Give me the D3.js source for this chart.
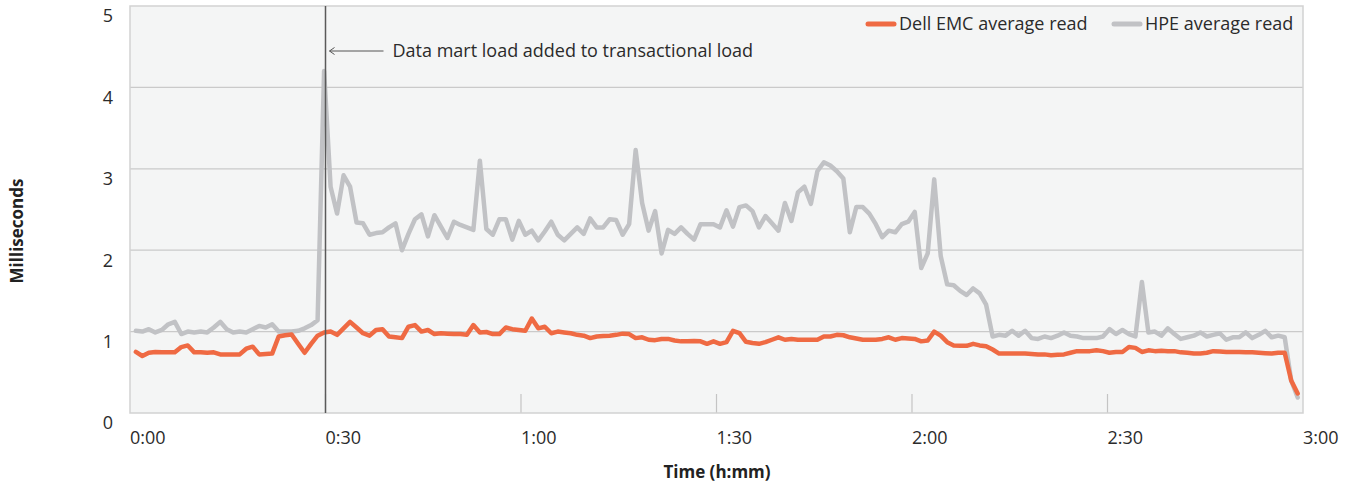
<!DOCTYPE html>
<html>
<head>
<meta charset="utf-8">
<script src="https://cdn.jsdelivr.net/npm/d3@7"></script>
<style>
  body { margin: 0; background: #fff; }
  svg { display: block; font-family: "Open Sans", Lato, sans-serif; }
</style>
</head>
<body>
<svg id="chart" width="1354" height="486"></svg>
<script>
// sample times: one reading per minute, starting just after 0:00
const startMin = 0.9;
const stepMin = 0.996;

const dellEmc = [
  0.75, 0.70, 0.74, 0.75, 0.745, 0.745, 0.745, 0.81, 0.83, 0.745,
  0.745, 0.74, 0.745, 0.72, 0.72, 0.72, 0.72, 0.79, 0.815, 0.72,
  0.725, 0.73, 0.94, 0.955, 0.965, 0.85, 0.74, 0.85, 0.95, 0.99,
  1.0, 0.96, 1.04, 1.12, 1.05, 0.98, 0.95, 1.02, 1.03, 0.94,
  0.93, 0.92, 1.06, 1.08, 1.0, 1.02, 0.97, 0.98, 0.975, 0.97,
  0.97, 0.96, 1.08, 0.99, 0.995, 0.97, 0.97, 1.05, 1.03, 1.02,
  1.01, 1.16, 1.04, 1.06, 0.98, 1.0, 0.99, 0.98, 0.96, 0.95,
  0.92, 0.94, 0.945, 0.95, 0.96, 0.975, 0.97, 0.92, 0.93, 0.9,
  0.895, 0.91, 0.91, 0.89, 0.88, 0.88, 0.885, 0.88, 0.85, 0.88,
  0.85, 0.87, 1.01, 0.98, 0.875, 0.86, 0.85, 0.87, 0.9, 0.93,
  0.9, 0.91, 0.9, 0.9, 0.9, 0.9, 0.94, 0.94, 0.96, 0.955,
  0.93, 0.915, 0.9, 0.9, 0.9, 0.91, 0.93, 0.9, 0.92, 0.915,
  0.91, 0.88, 0.89, 1.0, 0.95, 0.87, 0.83, 0.825, 0.825, 0.85,
  0.83, 0.82, 0.78, 0.73, 0.73, 0.73, 0.73, 0.73, 0.725, 0.72,
  0.72, 0.71, 0.715, 0.72, 0.74, 0.76, 0.76, 0.76, 0.77, 0.76,
  0.74, 0.75, 0.75, 0.81, 0.8, 0.75, 0.77, 0.76, 0.765, 0.76,
  0.76, 0.745, 0.74, 0.73, 0.73, 0.74, 0.76, 0.755, 0.75, 0.75,
  0.75, 0.745, 0.745, 0.74, 0.735, 0.73, 0.74, 0.74, 0.4, 0.24,
];

const hpe = [
  1.01, 1.0, 1.03, 0.99, 1.02, 1.09, 1.12, 0.97, 1.0, 0.99,
  1.0, 0.99, 1.05, 1.12, 1.03, 0.99, 1.0, 0.99, 1.03, 1.07,
  1.05, 1.09, 1.0, 1.0, 1.0, 1.01, 1.04, 1.08, 1.14, 4.2,
  2.78, 2.45, 2.92, 2.78, 2.34, 2.33, 2.19, 2.21, 2.22, 2.28,
  2.33, 2.0, 2.2, 2.38, 2.44, 2.17, 2.43, 2.29, 2.15, 2.35,
  2.31, 2.28, 2.25, 3.1, 2.26, 2.19, 2.38, 2.38, 2.13, 2.36,
  2.19, 2.24, 2.12, 2.23, 2.35, 2.19, 2.12, 2.2, 2.28, 2.2,
  2.39, 2.28, 2.28, 2.38, 2.37, 2.19, 2.32, 3.23, 2.58, 2.24,
  2.48, 1.96, 2.25, 2.2, 2.28, 2.2, 2.13, 2.32, 2.32, 2.32,
  2.28, 2.49, 2.29, 2.53, 2.55, 2.48, 2.28, 2.42, 2.33, 2.24,
  2.58, 2.36, 2.71, 2.78, 2.57, 2.97, 3.08, 3.04, 2.97, 2.88,
  2.22, 2.53, 2.53, 2.45, 2.32, 2.16, 2.24, 2.22, 2.32, 2.35,
  2.47, 1.78, 1.96, 2.87, 1.93, 1.58, 1.57, 1.5, 1.45, 1.53,
  1.47, 1.33, 0.94, 0.96, 0.95, 1.01, 0.95, 1.01, 0.92, 0.91,
  0.94, 0.92, 0.95, 0.99, 0.95, 0.94, 0.92, 0.92, 0.92, 0.94,
  1.03, 0.97, 1.02, 0.97, 0.94, 1.61, 0.99, 1.0, 0.95, 1.04,
  0.97, 0.91, 0.93, 0.95, 0.99, 0.94, 0.96, 0.98, 0.9, 0.93,
  0.93, 0.99, 0.92, 0.96, 1.01, 0.93, 0.95, 0.93, 0.4, 0.19,
];

const xTicks = [0, 30, 60, 90, 120, 150, 180];
const yTicks = [0, 1, 2, 3, 4, 5];
const seriesNames = ["Dell EMC average read", "HPE average read"];
const colors = ["#ef6a43", "#c1c2c5"];
const note = "Data mart load added to transactional load";
const noteAt = 30;

const fmtTime = (m) => Math.floor(m / 60) + ":" + String(m % 60).padStart(2, "0");

const svg = d3.select("#chart");
const margin = { top: 6, right: 51, bottom: 73, left: 130 },
  width = 1354 - margin.left - margin.right,
  height = 486 - margin.top - margin.bottom;

const g = svg.append("g").attr("transform", `translate(${margin.left}, ${margin.top})`);

// set the ranges
const x = d3.scaleLinear().domain([0, 180]).range([0, width]);
const y = d3.scaleLinear().domain([0, 5]).range([height, 0]);

// plot background
g.append("rect")
  .attr("width", width)
  .attr("height", height)
  .attr("fill", "#f4f5f5");

// horizontal gridlines
g.append("g")
  .selectAll("line")
  .data(yTicks.slice(1, -1))
  .join("line")
  .attr("x1", 0)
  .attr("x2", width)
  .attr("y1", (d) => y(d))
  .attr("y2", (d) => y(d))
  .attr("stroke", "#cacaca")
  .attr("stroke-width", 1.3);

// short tick marks standing on the bottom edge
g.append("g")
  .selectAll("line")
  .data(xTicks.slice(1, -1))
  .join("line")
  .attr("x1", (d) => x(d))
  .attr("x2", (d) => x(d))
  .attr("y1", height)
  .attr("y2", height - 19)
  .attr("stroke", "#c4c4c4")
  .attr("stroke-width", 1.2);

// plot border
g.append("rect")
  .attr("width", width)
  .attr("height", height)
  .attr("fill", "none")
  .attr("stroke", "#d2d2d2")
  .attr("stroke-width", 1.5);

// the lines
const times = hpe.map((_, i) => startMin + i * stepMin);
const line = d3
  .line()
  .x((d, i) => x(times[i]))
  .y((d) => y(d));

[hpe, dellEmc].forEach((data, k) => {
  g.append("path")
    .datum(data)
    .attr("fill", "none")
    .attr("stroke", k === 0 ? colors[1] : colors[0])
    .attr("stroke-width", 4.5)
    .attr("stroke-linejoin", "round")
    .attr("stroke-linecap", "round")
    .attr("d", line);
});

// annotation marker
g.append("line")
  .attr("x1", x(noteAt))
  .attr("x2", x(noteAt))
  .attr("y1", 0)
  .attr("y2", height)
  .attr("stroke", "#5a5a5a")
  .attr("stroke-width", 1.5);

const ay = 45;
g.append("line")
  .attr("x1", x(noteAt) + 4)
  .attr("x2", x(noteAt) + 58)
  .attr("y1", ay)
  .attr("y2", ay)
  .attr("stroke", "#555")
  .attr("stroke-width", 1);
g.append("path")
  .attr("d", `M${x(noteAt) + 9},${ay - 3.5} L${x(noteAt) + 4},${ay} L${x(noteAt) + 9},${ay + 3.5}`)
  .attr("fill", "none")
  .attr("stroke", "#555")
  .attr("stroke-width", 1);
g.append("text")
  .attr("x", x(noteAt) + 67)
  .attr("y", ay + 6)
  .attr("font-size", 18)
  .attr("fill", "#2b2b2b")
  .text(note);

// y tick labels
g.append("g")
  .selectAll("text")
  .data(yTicks)
  .join("text")
  .attr("x", -17)
  .attr("y", (d) => y(d) + 10)
  .attr("dy", "0.35em")
  .attr("text-anchor", "end")
  .attr("font-size", 18)
  .attr("fill", "#2b2b2b")
  .text((d) => d);

// x tick labels
g.append("g")
  .selectAll("text")
  .data(xTicks)
  .join("text")
  .attr("x", (d) => x(d))
  .attr("y", height + 31)
  .attr("font-size", 18)
  .attr("fill", "#2b2b2b")
  .text(fmtTime);

// axis titles
svg.append("text")
  .attr("x", 717)
  .attr("y", 478)
  .attr("text-anchor", "middle")
  .attr("font-size", 17)
  .attr("font-weight", "bold")
  .attr("fill", "#222")
  .text("Time (h:mm)");

svg.append("text")
  .attr("transform", "translate(23, 231) rotate(-90)")
  .attr("text-anchor", "middle")
  .attr("font-size", 17)
  .attr("font-weight", "bold")
  .attr("fill", "#222")
  .text("Milliseconds");

// legend
const legendX = [868, 1114];
seriesNames.forEach((name, i) => {
  const lg = svg.append("g").attr("transform", `translate(${legendX[i]}, 24)`);
  lg.append("line")
    .attr("x1", 0)
    .attr("x2", 26)
    .attr("stroke", colors[i])
    .attr("stroke-width", 5)
    .attr("stroke-linecap", "round");
  lg.append("text")
    .attr("x", 31)
    .attr("y", 6)
    .attr("font-size", 18)
    .attr("fill", "#2b2b2b")
    .text(name);
});
</script>
</body>
</html>
